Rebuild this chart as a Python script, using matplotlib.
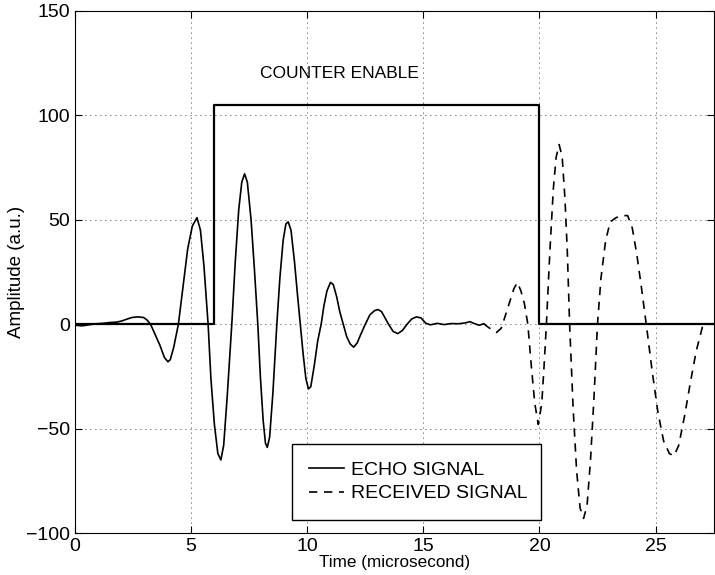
import numpy as np
import matplotlib.pyplot as plt

plt.rcParams['font.family'] = ['Liberation Sans', 'DejaVu Sans']

# echo signal (solid)
echo_t = [0, 0.3, 0.6, 0.9, 1.2, 1.5, 1.8, 2.0,
          2.2, 2.45, 2.7, 2.95, 3.1, 3.25,
          3.45, 3.65, 3.85, 4.0, 4.1, 4.25, 4.45,
          4.65, 4.85, 5.05, 5.25, 5.4, 5.55, 5.73,
          5.85, 6.0, 6.15, 6.28, 6.4, 6.55, 6.75,
          6.9, 7.05, 7.18, 7.3, 7.42, 7.58, 7.72, 7.87,
          7.98, 8.1, 8.2, 8.28, 8.38, 8.52, 8.69,
          8.82, 8.96, 9.08, 9.18, 9.3, 9.45, 9.58, 9.7,
          9.82, 9.94, 10.05, 10.15, 10.3, 10.45, 10.6,
          10.72, 10.85, 11.0, 11.12, 11.27, 11.4, 11.55,
          11.7, 11.85, 12.0, 12.15, 12.3, 12.5,
          12.7, 12.9, 13.05, 13.2, 13.35, 13.5,
          13.7, 13.9, 14.1, 14.3,
          14.5, 14.7, 14.9, 15.1,
          15.3, 15.6, 15.9, 16.2, 16.5, 16.8, 17.0, 17.2, 17.4, 17.6]
echo_a = [-0.5, -0.8, -0.3, 0.2, 0.4, 0.8, 1.0, 1.5,
          2.3, 3.2, 3.5, 3.2, 2.0, 0,
          -5, -10, -16, -18, -17, -11, 0,
          18, 36, 47, 51, 45, 28, 0,
          -26, -48, -62, -65, -58, -35, 0,
          30, 55, 68, 72, 68, 50, 27, 0,
          -25, -46, -57, -59, -54, -33, 0,
          22, 40, 48, 49, 45, 30, 14, 0,
          -14, -26, -31, -30, -20, -8, 0,
          9, 16, 20, 19, 13, 6, 0,
          -6, -9.5, -11, -9, -5, 0,
          4.5, 6.5, 7, 6, 3, 0,
          -3.5, -4.5, -3, 0,
          2.5, 3.5, 3, 0.5,
          -0.3, 0.4, -0.2, 0.3, 0.2, 0.6, 1.2, 0.3, -0.5, 0.2]

# received signal (dashed)
recv_t = [17.6, 17.8, 18.0, 18.15, 18.35, 18.5, 18.7, 18.9, 19.05, 19.2,
          19.35, 19.5, 19.65, 19.8, 19.95, 20.1, 20.2, 20.3,
          20.45, 20.6, 20.72, 20.85, 20.98, 21.1, 21.2, 21.3,
          21.45, 21.6, 21.75, 21.9, 22.05, 22.2, 22.35, 22.5,
          22.65, 22.85, 23.05, 23.3, 23.55, 23.8, 24.0, 24.2, 24.4, 24.6,
          24.85, 25.1, 25.35, 25.6, 25.8, 26.0, 26.25, 26.5, 26.75, 27.05]
recv_a = [0.2, -1.5, -3, -4, -2, 3, 10, 17, 20, 16,
          10, 0, -20, -38, -48, -38, -20, 0,
          35, 65, 80, 86, 80, 60, 35, 0,
          -40, -70, -88, -93, -87, -65, -35, 0,
          22, 40, 49, 51, 52, 52, 46, 33, 17, 0,
          -22, -42, -56, -62, -63, -58, -44, -28, -13, 0]

# counter enable gate
gate_t = [0, 6, 6, 20, 20, 27.5]
gate_a = [0, 0, 105, 105, 0, 0]

fig = plt.figure(figsize=(7.15, 5.75), dpi=100)
ax = fig.add_axes([0.105, 0.073, 0.893, 0.908])

ax.plot(gate_t, gate_a, color='black', linewidth=1.6)
ax.plot(echo_t, echo_a, color='black', linewidth=1.2, label='ECHO SIGNAL')
ax.plot(recv_t, recv_a, color='black', linewidth=1.2, linestyle=(0, (5, 4)),
        label='RECEIVED SIGNAL')

ax.text(11.4, 120, 'COUNTER ENABLE', ha='center', va='center', fontsize=12.5)

ax.set_xlim(0, 27.5)
ax.set_ylim(-100, 150)
ax.set_xticks([0, 5, 10, 15, 20, 25])
ax.set_yticks([-100, -50, 0, 50, 100, 150])
ax.tick_params(direction='in', labelsize=14, length=5, top=True, right=True)
ax.grid(True, color='black', linestyle=(0, (1, 5)), linewidth=0.6)
ax.set_xlabel('Time (microsecond)', fontsize=12.3, labelpad=0)
ax.set_ylabel('Amplitude (a.u.)', fontsize=13.5, labelpad=1)

leg = ax.legend(loc='lower left', bbox_to_anchor=(0.339, 0.025, 0.39, 0.144),
                mode='expand', fancybox=False, edgecolor='black', framealpha=1,
                fontsize=14, handlelength=1.8, handletextpad=0.36,
                borderpad=0.9, labelspacing=0.3, borderaxespad=0)
leg.get_frame().set_linewidth(1.0)

fig.savefig('out.png', dpi=100)
